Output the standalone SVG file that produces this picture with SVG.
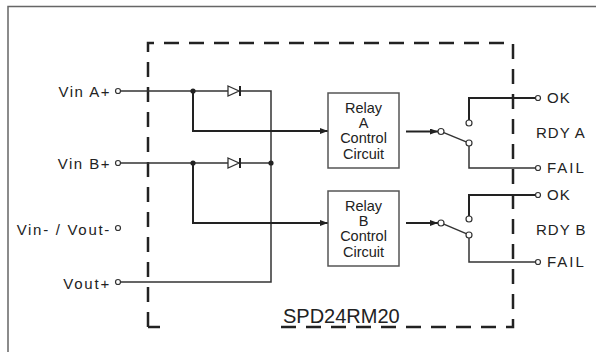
<svg xmlns="http://www.w3.org/2000/svg" width="596" height="352" viewBox="0 0 596 352">
<defs>
<marker id="arr" markerWidth="8" markerHeight="6" refX="8" refY="3" orient="auto" markerUnits="userSpaceOnUse">
<path d="M0,0 L8,3 L0,6 Z" fill="#222"/>
</marker>
<style>
.t{font-family:"Liberation Sans",Arial,sans-serif;font-size:15px;fill:#222;letter-spacing:1.5px}
.r{font-family:"Liberation Sans",Arial,sans-serif;font-size:15px;fill:#222;letter-spacing:1px}
.b{font-family:"Liberation Sans",Arial,sans-serif;font-size:14.5px;fill:#222;text-anchor:middle}
.w{fill:none;stroke:#333;stroke-width:1.5}
.k{fill:none;stroke:#222;stroke-width:2}
.term{fill:#fff;stroke:#333;stroke-width:1.2}
.dot{fill:#222}
.box{fill:#fff;stroke:#555;stroke-width:1.5}
</style>
</defs>
<rect width="596" height="352" fill="#fff"/>
<g id="frame">
<path d="M8,352 V6.5 H596" fill="none" stroke="#666" stroke-width="1.5"/>
</g>
<g id="module">
<path d="M148,327 V43 H513 V327 H280" fill="none" stroke="#222" stroke-width="2.5" stroke-dasharray="15 10"/>
<path d="M148,327 H160" fill="none" stroke="#222" stroke-width="2.5"/>
<text x="283" y="323" font-family="Liberation Sans, Arial, sans-serif" font-size="20" fill="#222">SPD24RM20</text>
</g>
<g id="connectors">
<path class="w" d="M120.5,91 H228 M240,91 H271 V282 H120.5"/>
<path class="w" d="M120.5,163 H228 M240,163 H271"/>
<path class="k" d="M193,91 V131 H328" marker-end="url(#arr)"/>
<path class="k" d="M193,163 V223 H328" marker-end="url(#arr)"/>
<path class="k" d="M406,131.5 H438" marker-end="url(#arr)"/>
<path class="k" d="M406,223 H438" marker-end="url(#arr)"/>
<path class="w" d="M443.8,132.6 L466.2,141.9"/>
<path class="w" d="M443.8,224.1 L466.2,233.6"/>
<path class="k" d="M469,120 V98 H535.5"/>
<path class="w" d="M469,146 V168 H535.5"/>
<path class="k" d="M469,216 V195 H535.5"/>
<path class="w" d="M469,238 V262 H535.5"/>
</g>
<g id="diodeA">
<path d="M228,86 L239,91 L228,96 Z" fill="#fff" stroke="#333" stroke-width="1.3"/>
<path d="M240,86 V96" stroke="#222" stroke-width="2"/>
</g>
<g id="diodeB">
<path d="M228,158 L239,163 L228,168 Z" fill="#fff" stroke="#333" stroke-width="1.3"/>
<path d="M240,158 V168" stroke="#222" stroke-width="2"/>
</g>
<g id="junctions">
<circle class="dot" cx="193" cy="91" r="2.6"/>
<circle class="dot" cx="193" cy="163" r="2.6"/>
<circle class="dot" cx="271" cy="163" r="2.6"/>
</g>
<g id="vinA">
<text class="t" x="111" y="97" text-anchor="end">Vin A+</text>
<circle class="term" cx="118" cy="91" r="2.5"/>
</g>
<g id="vinB">
<text class="t" x="111" y="169" text-anchor="end">Vin B+</text>
<circle class="term" cx="118" cy="163" r="2.5"/>
</g>
<g id="vinminus">
<text class="t" x="111" y="235" text-anchor="end" style="letter-spacing:1.7px">Vin- / Vout-</text>
<circle class="term" cx="118" cy="228" r="2.5"/>
</g>
<g id="voutplus">
<text class="t" x="111" y="289" text-anchor="end" style="letter-spacing:1.8px">Vout+</text>
<circle class="term" cx="118" cy="282" r="2.5"/>
</g>
<g id="relayA">
<rect class="box" x="328" y="93" width="71" height="75"/>
<text class="b" x="363.5" y="112.5">Relay</text>
<text class="b" x="363.5" y="127.5">A</text>
<text class="b" x="363.5" y="143">Control</text>
<text class="b" x="363.5" y="158.5">Circuit</text>
</g>
<g id="relayB">
<rect class="box" x="328" y="191" width="71" height="75"/>
<text class="b" x="363.5" y="210.5">Relay</text>
<text class="b" x="363.5" y="225.5">B</text>
<text class="b" x="363.5" y="241">Control</text>
<text class="b" x="363.5" y="256.5">Circuit</text>
</g>
<g id="switchA">
<circle class="term" cx="441" cy="131.5" r="3"/>
<circle class="term" cx="469" cy="123" r="3"/>
<circle class="term" cx="469" cy="143" r="3"/>
</g>
<g id="switchB">
<circle class="term" cx="441" cy="223" r="3"/>
<circle class="term" cx="469" cy="219" r="3"/>
<circle class="term" cx="469" cy="235" r="3"/>
</g>
<g id="rdyA">
<circle class="term" cx="538" cy="98" r="2.5"/>
<circle class="term" cx="538" cy="168" r="2.5"/>
<text class="r" x="547" y="103">OK</text>
<text class="r" x="536" y="138">RDY A</text>
<text class="r" x="547" y="173" style="letter-spacing:2px">FAIL</text>
</g>
<g id="rdyB">
<circle class="term" cx="538" cy="195" r="2.5"/>
<circle class="term" cx="538" cy="262" r="2.5"/>
<text class="r" x="547" y="200">OK</text>
<text class="r" x="536" y="235">RDY B</text>
<text class="r" x="547" y="267" style="letter-spacing:2px">FAIL</text>
</g>
</svg>
